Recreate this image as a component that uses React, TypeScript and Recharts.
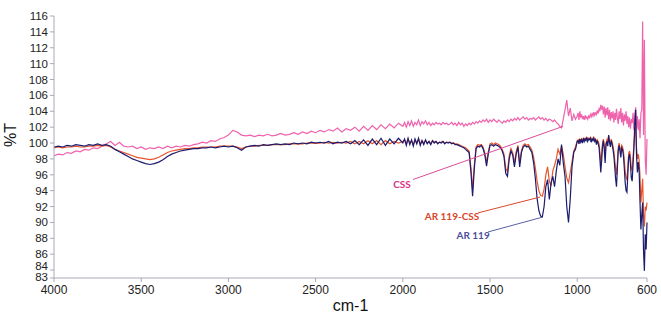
import { LineChart, Line, XAxis, YAxis, ReferenceLine, ReferenceDot } from "recharts";

// wavenumbers (cm-1), coarse above 2000, finer in the fingerprint region
const wnHigh = [
  4000, 3975, 3950, 3925, 3900, 3875, 3850, 3825, 3800, 3775, 3750, 3725, 3700,
  3675, 3650, 3625, 3600, 3575, 3550, 3525, 3500, 3475, 3450, 3425, 3400, 3375,
  3350, 3325, 3300, 3275, 3250, 3225, 3200, 3175, 3150, 3125, 3100, 3075, 3050,
  3025, 3000, 2975, 2950, 2925, 2900, 2875, 2850, 2825, 2800, 2775, 2750, 2725,
  2700, 2675, 2650, 2625, 2600, 2575, 2550, 2525, 2500, 2475, 2450, 2425, 2400,
  2375, 2350, 2325, 2300, 2275, 2250, 2225, 2200, 2175, 2150, 2125, 2100, 2075,
  2050, 2025, 2000,
];
const wnMid = [
  1990, 1980, 1970, 1960, 1950, 1940, 1930, 1920, 1910, 1900, 1890, 1880, 1870,
  1860, 1850, 1840, 1830, 1820, 1810, 1800, 1790, 1780, 1770, 1760, 1750, 1740,
  1730, 1720, 1710, 1700, 1690, 1680, 1670, 1660, 1650, 1640, 1630, 1620, 1610,
  1600, 1590, 1580, 1570, 1560, 1550, 1540, 1530, 1520, 1510, 1500, 1490, 1480,
  1470, 1460, 1450, 1440, 1430, 1420, 1410, 1400, 1390, 1380, 1370, 1360, 1350,
  1340, 1330, 1320, 1310, 1300, 1290, 1280, 1270, 1260, 1250, 1240, 1230, 1220,
  1210, 1200, 1190, 1180, 1170, 1160, 1150, 1140, 1130, 1120, 1110, 1100, 1090,
  1080, 1070, 1060, 1050, 1040, 1030, 1020, 1010, 1000,
];
const wnLow = [
  995, 990, 985, 980, 975, 970, 965, 960, 955, 950, 945, 940, 935, 930, 925, 920,
  915, 910, 905, 900, 895, 890, 885, 880, 875, 870, 865, 860, 855, 850, 845, 840,
  835, 830, 825, 820, 815, 810, 805, 800, 795, 790, 785, 780, 775, 770, 765, 760,
  755, 750, 745, 740, 735, 730, 725, 720, 715, 710, 705, 700, 695, 690, 685, 680,
  675, 670, 665, 660, 655, 650, 645, 640, 635, 630, 625, 620, 615, 610, 605, 600,
];

// %T readings, AR 119
const ar119High = [
  99.5, 99.6, 99.5, 99.7, 99.6, 99.8, 99.7, 99.6, 99.8, 99.7, 99.9, 99.7, 99.8,
  99.6, 99.2, 98.9, 98.6, 98.3, 98.0, 97.8, 97.6, 97.4, 97.3, 97.4, 97.6, 97.9,
  98.3, 98.6, 98.8, 99.0, 99.1, 99.2, 99.3, 99.3, 99.4, 99.4, 99.5, 99.4, 99.5,
  99.6, 99.5, 99.6, 99.4, 99.1, 99.5, 99.6, 99.7, 99.6, 99.8, 99.7, 99.8, 99.9,
  99.8, 99.9, 99.8, 100.0, 99.9, 100.0, 99.9, 100.1, 100.0, 100.1, 100.0, 100.2,
  99.9, 100.1, 100.0, 100.2, 99.9, 100.3, 99.8, 100.4, 99.7, 100.5, 99.8, 100.6,
  99.7, 100.5, 99.9, 100.6, 100.0,
];
const ar119Mid = [
  100.5, 99.7, 100.6, 99.8, 100.4, 99.6, 100.5, 99.9, 100.6, 99.7,
  100.3, 99.8, 100.4, 99.9, 100.2, 99.8, 100.3, 100.0, 100.2, 99.9,
  100.1, 100.0, 100.2, 99.9, 100.1, 100.0, 100.1, 99.9, 100.0, 99.8,
  99.8, 99.7, 99.6, 99.5, 99.4, 99.2, 99.0, 98.8, 96.5, 93.3,
  96.8, 99.3, 99.6, 99.5, 99.7, 99.3, 98.5, 97.1, 98.6, 99.7,
  99.8, 99.6, 99.8, 99.7, 99.6, 99.4, 99.0, 98.3, 96.2, 95.8,
  98.0, 99.0, 98.5, 97.0, 98.6, 99.5, 97.0, 98.8, 99.5, 99.7,
  99.5, 99.6, 99.2, 98.8, 97.5, 95.5, 93.0, 91.5, 90.8, 90.7,
  92.0, 94.5, 95.4, 92.9, 95.0, 95.8, 94.5, 96.5, 98.0, 97.2,
  99.8, 97.5, 95.8, 92.0, 90.0, 93.0, 97.0, 98.8, 99.2, 100.2,
];
const ar119Low = [
  100.3, 99.9, 100.5, 100.1, 100.4, 100.0, 100.6, 100.2, 100.5, 100.3,
  100.7, 100.2, 100.5, 100.4, 100.6, 100.1, 100.5, 100.3, 100.6, 100.2,
  100.4, 99.8, 100.3, 99.9, 99.5, 98.0, 96.3, 97.8, 99.6, 100.3,
  99.2, 97.5, 99.8, 100.2, 99.6, 101.0, 100.1, 99.5, 100.3, 99.8,
  99.2, 98.4, 97.0, 95.5, 94.5, 96.8, 99.0, 99.7, 99.0, 98.2,
  99.4, 99.2, 98.4, 96.8, 95.0, 94.0, 93.8, 96.0, 98.2, 98.6,
  97.4, 95.6, 95.2, 97.3, 99.4, 102.5, 104.2, 98.5, 96.3, 97.6,
  96.5, 92.5, 89.1, 91.0, 92.5, 86.5, 83.9, 88.5, 86.6, 90.0,
];

// %T readings, AR 119-CSS
const ar119cssHigh = [
  99.4, 99.5, 99.4, 99.5, 99.5, 99.6, 99.5, 99.5, 99.6, 99.6, 99.7, 99.6, 99.7,
  99.5, 99.2, 99.0, 98.8, 98.6, 98.4, 98.2, 98.1, 98.0, 97.9, 98.0, 98.2, 98.5,
  98.8, 99.0, 99.1, 99.2, 99.3, 99.3, 99.4, 99.4, 99.5, 99.5, 99.5, 99.5, 99.6,
  99.6, 99.6, 99.6, 99.5, 99.3, 99.5, 99.6, 99.6, 99.7, 99.7, 99.7, 99.8, 99.8,
  99.8, 99.8, 99.9, 99.9, 99.9, 99.9, 100.0, 100.0, 100.0, 100.0, 100.1, 100.0,
  100.1, 100.0, 100.1, 100.0, 100.2, 99.9, 100.2, 99.9, 100.3, 99.9, 100.3, 99.8,
  100.3, 99.9, 100.2, 100.0, 100.2,
];
const ar119cssMid = [
  100.4, 99.9, 100.5, 100.0, 100.3, 99.8, 100.4, 100.0, 100.5, 99.9,
  100.3, 100.0, 100.3, 100.0, 100.2, 99.9, 100.3, 100.1, 100.2, 100.0,
  100.1, 100.1, 100.2, 100.0, 100.1, 100.1, 100.1, 100.0, 100.0, 99.9,
  99.9, 99.8, 99.7, 99.6, 99.5, 99.4, 99.2, 99.0, 97.0, 94.2,
  97.3, 99.5, 99.8, 99.7, 99.8, 99.5, 98.8, 97.6, 98.9, 99.9,
  100.0, 99.8, 100.0, 99.9, 99.8, 99.6, 99.2, 98.6, 96.8, 96.4,
  98.4, 99.3, 98.8, 97.5, 98.9, 99.7, 97.5, 99.0, 99.7, 99.9,
  99.7, 99.8, 99.5, 99.1, 98.2, 96.8, 95.2, 94.0, 93.4, 93.3,
  94.2, 96.0, 97.0, 95.2, 94.6, 96.5, 97.2, 98.0, 99.2, 98.6,
  99.6, 98.6, 97.0, 95.6, 95.0, 96.3, 97.6, 99.0, 99.5, 100.3,
];
const ar119cssLow = [
  100.4, 100.1, 100.5, 100.3, 100.5, 100.2, 100.6, 100.4, 100.6, 100.4,
  100.7, 100.4, 100.6, 100.5, 100.7, 100.3, 100.6, 100.4, 100.7, 100.4,
  100.5, 100.1, 100.4, 100.2, 99.9, 98.8, 97.4, 98.6, 99.9, 100.5,
  99.7, 98.4, 100.0, 100.4, 100.0, 100.9, 100.3, 99.9, 100.5, 100.1,
  99.6, 99.0, 97.9, 96.8, 96.0, 97.6, 99.4, 100.0, 99.4, 98.8,
  99.7, 99.5, 98.9, 97.8, 96.4, 95.6, 95.4, 97.0, 98.7, 99.0,
  98.2, 96.8, 96.5, 98.2, 99.8, 101.3, 102.0, 99.4, 98.0, 98.6,
  97.8, 95.8, 92.5, 94.0, 95.5, 91.0, 89.5, 92.0, 91.5, 92.5,
];

// %T readings, CSS
const cssHigh = [
  98.4, 98.6, 98.5, 98.8, 98.7, 99.0, 98.9, 99.2, 99.1, 99.4, 99.3, 99.6, 99.9,
  100.2, 99.7, 100.1, 99.6, 99.5, 99.6, 99.3, 99.5, 99.2, 99.4, 99.3, 99.5, 99.3,
  99.6, 99.4, 99.6, 99.5, 99.7, 99.6, 99.8, 99.9, 100.1, 100.0, 100.3, 100.2,
  100.5, 100.7, 101.0, 101.6, 101.4, 101.0, 100.9, 101.0, 100.8, 101.0, 100.9,
  101.1, 100.9, 101.0, 101.2, 101.0, 101.1, 101.3, 101.1, 101.4, 101.2, 101.5,
  101.3, 101.6, 101.4, 101.7, 101.5, 101.9, 101.4, 101.8, 101.6, 102.0, 101.5,
  102.1, 101.6, 102.2, 101.7, 102.3, 101.8, 102.4, 101.9, 102.5, 102.1,
];
const cssMid = [
  102.6, 102.0, 102.7, 102.2, 102.8, 102.1, 102.6, 102.3, 102.9, 102.2,
  102.7, 102.4, 102.8, 102.3, 102.6, 102.2, 102.5, 102.3, 102.6, 102.4,
  102.5, 102.3, 102.6, 102.4, 102.5, 102.3, 102.4, 102.6, 102.3, 102.5,
  102.2, 102.6, 102.3, 102.5, 102.1, 102.4, 102.2, 102.5, 102.3, 102.6,
  102.4, 102.7, 102.5, 102.8, 102.6, 102.9, 102.7, 103.0, 102.6, 102.9,
  102.7, 103.0, 102.8, 102.6, 102.9, 102.7, 102.5, 102.8, 102.6, 102.9,
  102.7, 103.0, 102.8, 103.1, 102.9, 103.2, 102.9, 103.1, 103.3, 103.0,
  103.2, 102.9, 103.1, 103.0, 103.2, 102.9, 103.1, 103.3, 103.0, 103.2,
  102.9, 103.1, 102.8, 103.0, 102.9, 102.7, 102.9, 102.6, 102.4, 102.1,
  101.9, 103.0, 104.2, 105.4, 103.4, 104.4, 102.8, 103.6, 103.0, 103.4,
];
const cssLow = [
  103.8, 102.9, 104.0, 103.2, 103.6, 103.0, 103.4, 102.9, 103.5, 103.1,
  103.3, 103.0, 103.4, 103.2, 103.6, 103.3, 103.7, 103.4, 103.9, 103.5,
  103.8, 103.6, 104.1, 103.7, 104.3, 104.0, 104.8, 104.2, 104.7, 103.6,
  104.6, 103.2, 104.4, 103.5, 104.5, 103.0, 104.2, 102.8, 103.9, 103.1,
  104.0, 102.6, 103.8, 102.9, 104.3, 103.2, 102.4, 104.0, 103.0, 104.4,
  102.6, 103.8, 102.2, 103.6, 102.8, 104.0, 102.4, 103.4, 102.0, 103.2,
  101.8, 103.0, 102.5, 103.8, 101.6, 103.6, 104.5, 101.8, 103.4, 101.6,
  103.0, 100.6, 103.8, 104.2, 115.3, 101.0, 113.0, 98.0, 96.0, 100.5,
];

const xTicks = [4000, 3500, 3000, 2500, 2000, 1500, 1000, 600];
const yTicks = [83, 84, 86, 88, 90, 92, 94, 96, 98, 100, 102, 104, 106, 108, 110, 112, 114, 116];

const wavenumbers = [...wnHigh, ...wnMid, ...wnLow];
const ar119 = [...ar119High, ...ar119Mid, ...ar119Low];
const ar119css = [...ar119cssHigh, ...ar119cssMid, ...ar119cssLow];
const css = [...cssHigh, ...cssMid, ...cssLow];

const data = wavenumbers.map((wn, i) => ({
  wn,
  ar119: ar119[i],
  ar119css: ar119css[i],
  css: css[i],
}));

const FONT = "'Liberation Sans', Arial, sans-serif";
const AXIS = "#a9a9b8";

// 83 and 84 sit very close together, nudge their labels apart like the original
function YTick(props: any) {
  const { x, y, payload } = props;
  const v = payload.value;
  const dy = v === 84 ? -4 : v === 83 ? -1 : 0;
  return (
    <text
      x={x}
      y={y + dy}
      textAnchor="end"
      dominantBaseline="central"
      fill="#222"
      fontSize={11.5}
      fontFamily={FONT}
    >
      {v}
    </text>
  );
}

const callout = (text: string, color: string) => (props: any) => (
  <text
    x={props.cx}
    y={props.cy}
    textAnchor="middle"
    dominantBaseline="central"
    fill={color}
    fontFamily="Lato, sans-serif"
    fontWeight={700}
    fontSize={10}
  >
    {text}
  </text>
);

export default function App() {
  return (
    <div style={{ position: "absolute", left: 0, top: 0, background: "#fff" }}>
      <LineChart
        width={661}
        height={315}
        data={data}
        margin={{ top: 16, right: 14, left: 0, bottom: 0 }}
      >
        <XAxis
          dataKey="wn"
          type="number"
          domain={[600, 4000]}
          reversed
          ticks={xTicks}
          interval={0}
          height={37}
          stroke={AXIS}
          tickSize={4}
          tickMargin={3}
          tick={{ fill: "#222", fontSize: 12, fontFamily: FONT }}
          label={{
            value: "cm-1",
            position: "insideBottom",
            offset: 4,
            fill: "#111",
            fontSize: 16,
            fontFamily: FONT,
          }}
        />
        <YAxis
          type="number"
          domain={[83, 116]}
          ticks={yTicks}
          interval={0}
          allowDataOverflow
          width={54}
          stroke={AXIS}
          tickSize={4}
          tickMargin={2}
          tick={<YTick />}
          label={{
            value: "%T",
            angle: -90,
            position: "insideLeft",
            offset: 10,
            fill: "#111",
            fontSize: 16,
            fontFamily: FONT,
          }}
        />
        <Line dataKey="css" stroke="#ef62ac" strokeWidth={1.2} dot={false} isAnimationActive={false} />
        <Line dataKey="ar119css" stroke="#e9542b" strokeWidth={1.2} dot={false} isAnimationActive={false} />
        <Line dataKey="ar119" stroke="#1c1c6e" strokeWidth={1.2} dot={false} isAnimationActive={false} />

        <ReferenceLine segment={[{ x: 1942, y: 95.4 }, { x: 1081, y: 102.1 }]} stroke="#dc4c9a" strokeWidth={1} />
        <ReferenceLine segment={[{ x: 1569, y: 91.2 }, { x: 1213, y: 93.2 }]} stroke="#d9472b" strokeWidth={1} />
        <ReferenceLine segment={[{ x: 1511, y: 88.8 }, { x: 1202, y: 90.65 }]} stroke="#5a5fa8" strokeWidth={1} />

        <ReferenceDot x={2005} y={94.9} r={0} shape={callout("CSS", "#d8338a")} />
        <ReferenceDot x={1718} y={90.8} r={0} shape={callout("AR 119-CSS", "#d9462a")} />
        <ReferenceDot x={1597} y={88.4} r={0} shape={callout("AR 119", "#4b4f9c")} />
      </LineChart>
    </div>
  );
}
